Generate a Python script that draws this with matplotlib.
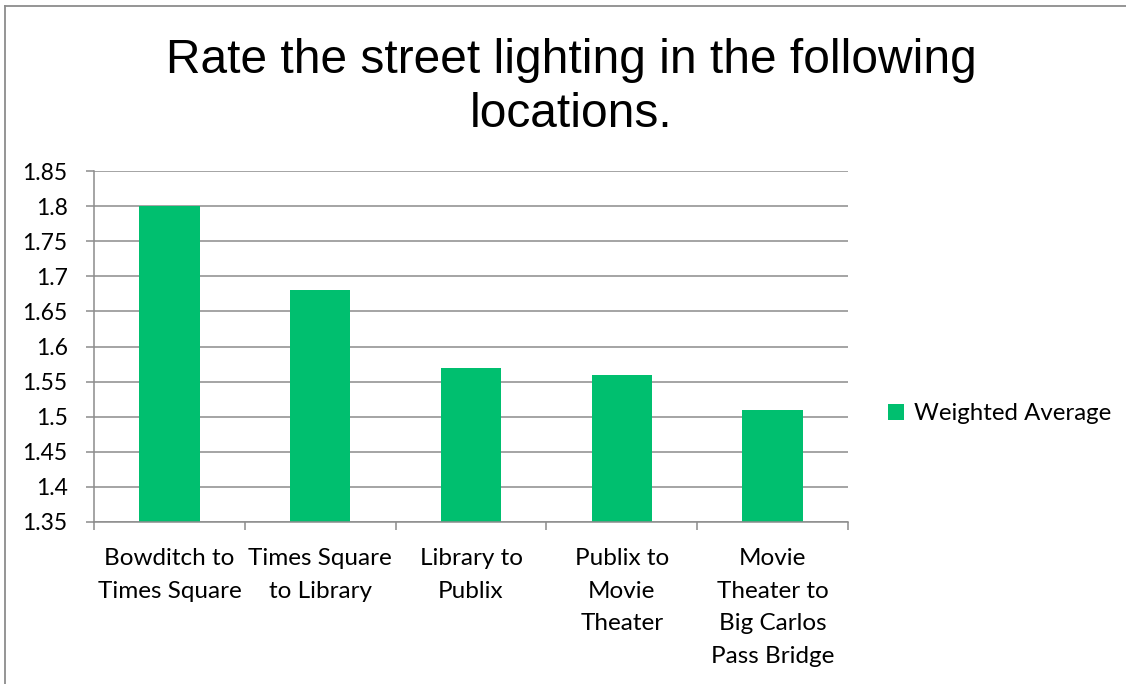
import matplotlib
matplotlib.use("Agg")
import matplotlib.pyplot as plt
from matplotlib.lines import Line2D
from matplotlib.ticker import FixedLocator

categories = [
    "Bowditch to\nTimes Square",
    "Times Square\nto Library",
    "Library to\nPublix",
    "Publix to\nMovie\nTheater",
    "Movie\nTheater to\nBig Carlos\nPass Bridge",
]
weighted_average = [1.80, 1.68, 1.57, 1.56, 1.51]
y_ticks = [1.35, 1.40, 1.45, 1.50, 1.55, 1.60, 1.65, 1.70, 1.75, 1.80, 1.85]
y_tick_labels = ["1.35", "1.4", "1.45", "1.5", "1.55", "1.6", "1.65", "1.7", "1.75", "1.8", "1.85"]

BAR_COLOR = "#00BF6F"
GRID_COLOR = "#8C8C8C"
LABEL_FONT = ["Lato", "DejaVu Sans"]

W, H = 1126, 684
fig = plt.figure(figsize=(W / 100, H / 100), dpi=100)
fig.patch.set_facecolor("white")

# chart frame (top and left edges)
fig.add_artist(Line2D([5 / W, 5 / W], [0, 1 - 6 / H], color="#8C8C8C", lw=1.3))
fig.add_artist(Line2D([5 / W, 1], [1 - 6 / H, 1 - 6 / H], color="#8C8C8C", lw=1.3))

ax = fig.add_axes([94 / W, 1 - 522 / H, (848 - 94) / W, (522 - 171) / H])
x = list(range(len(categories)))
ax.bar(x, weighted_average, width=0.4, color=BAR_COLOR, zorder=3,
       label="Weighted Average")

ax.set_xlim(-0.5, len(categories) - 0.5)
ax.set_ylim(y_ticks[0], y_ticks[-1])
ax.yaxis.set_major_locator(FixedLocator(y_ticks))
ax.set_yticklabels(y_tick_labels, fontfamily=LABEL_FONT, fontsize=16.5)
ax.yaxis.grid(True, color=GRID_COLOR, lw=1.1, zorder=0)

ax.set_xticks(x)
ax.set_xticklabels(categories, fontfamily=LABEL_FONT, fontsize=17.5, linespacing=1.7)
ax.set_xticks([i - 0.5 for i in range(len(categories) + 1)], minor=True)
ax.tick_params(axis="x", which="major", length=0, pad=18.5)
ax.tick_params(axis="x", which="minor", length=6, width=1.1, color=GRID_COLOR, direction="out")
ax.tick_params(axis="y", length=6, width=1.1, color=GRID_COLOR, pad=13)

for side in ("top", "right"):
    ax.spines[side].set_visible(False)
for side in ("left", "bottom"):
    ax.spines[side].set_color(GRID_COLOR)
    ax.spines[side].set_linewidth(1.1)
    ax.spines[side].set_zorder(4)

fig.text(571 / W, 1 - 127 / H, "Rate the street lighting in the following\nlocations.",
         ha="center", va="baseline", fontsize=34.5,
         fontfamily=["Liberation Sans", "DejaVu Sans"], linespacing=1.27)

ax.legend(loc="center left", bbox_to_anchor=(888 / W, 1 - 414 / H),
          bbox_transform=fig.transFigure, frameon=False, handlelength=0.65,
          handleheight=0.65, handletextpad=0.45, borderpad=0, borderaxespad=0,
          prop={"family": LABEL_FONT, "size": 17.3})

fig.savefig("out.png", dpi=100, facecolor="white")
